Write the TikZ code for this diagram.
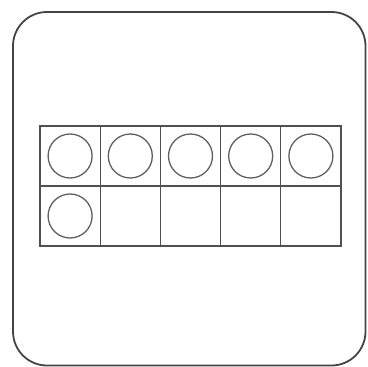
\documentclass[tikz,border=0pt]{standalone}
\usetikzlibrary{positioning}
\definecolor{frameline}{HTML}{444444}
\definecolor{gridline}{HTML}{505050}
\definecolor{dotline}{HTML}{606060}
\tikzset{
  cardbox/.style={draw=frameline,line width=1.8pt,rounded corners=34pt},
  cellbox/.style={draw=gridline,line width=1.2pt,rectangle,minimum width=60.2pt,minimum height=60pt,inner sep=0pt},
  counter/.style={draw=dotline,line width=1.3pt,circle,minimum size=44pt,inner sep=0pt}
}
\begin{document}
\begin{tikzpicture}[x=1pt,y=-1pt]
  \useasboundingbox (0,0) rectangle (367,367);
  \draw[cardbox] (13,12) rectangle (365.5,365.5);

  % ten frame
  \foreach \i in {1,...,5}{
    \node[cellbox] (top\i) at ({40+30.1+60.2*(\i-1)},156) {};
    \node[cellbox] (bot\i) at ({40+30.1+60.2*(\i-1)},216) {};
    \node[counter] (dot\i) at (top\i) {};
  }
  \node[counter] (dot6) at (bot1) {};
\end{tikzpicture}
\end{document}
